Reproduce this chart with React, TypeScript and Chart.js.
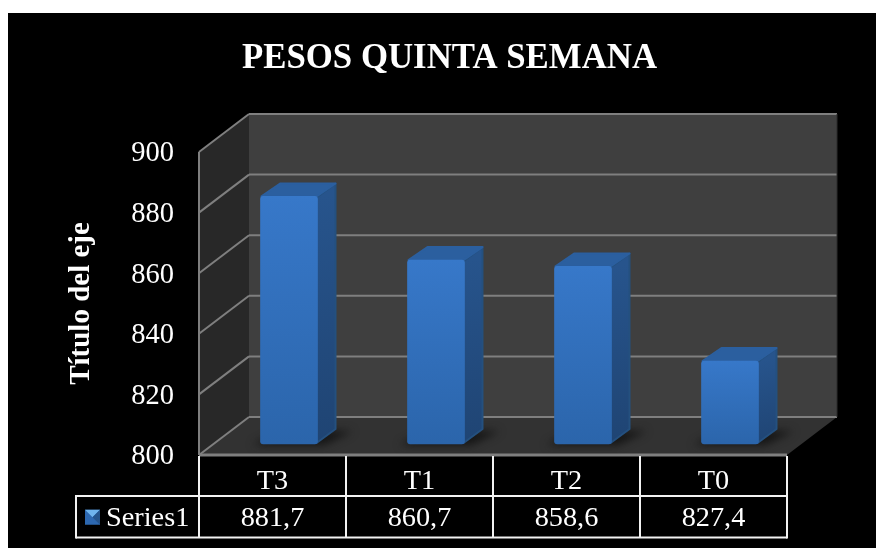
import React, { useEffect, useRef } from "react";
import { Chart, registerables } from "chart.js";

Chart.register(...registerables);

const chartTitle = "PESOS QUINTA SEMANA";
const axisTitle = "Título del eje";
const seriesName = "Series1";
const categories = ["T3", "T1", "T2", "T0"];
const seriesValues = [881.7, 860.7, 858.6, 827.4];
const yMin = 800;
const yMax = 900;
const yStep = 20;

const FONT = "'Liberation Serif', 'Times New Roman', serif";
const DEPTH_X = 50;
const DEPTH_Y = 38;
const BAR_SHIFT_X = 16.5;
const BAR_SHIFT_Y = 11;
const BAR_DX = 19;
const BAR_DY = 14;

function poly(ctx: CanvasRenderingContext2D, pts: number[][], fill?: any, stroke?: string, lw = 2) {
  ctx.beginPath();
  pts.forEach((p, i) => (i ? ctx.lineTo(p[0], p[1]) : ctx.moveTo(p[0], p[1])));
  ctx.closePath();
  if (fill) {
    ctx.fillStyle = fill;
    ctx.fill();
  }
  if (stroke) {
    ctx.strokeStyle = stroke;
    ctx.lineWidth = lw;
    ctx.stroke();
  }
}

function line(ctx: CanvasRenderingContext2D, x1: number, y1: number, x2: number, y2: number, color: string, lw = 2) {
  ctx.beginPath();
  ctx.moveTo(x1, y1);
  ctx.lineTo(x2, y2);
  ctx.strokeStyle = color;
  ctx.lineWidth = lw;
  ctx.stroke();
}

const scene3d = {
  id: "scene3d",
  beforeDatasetsDraw(chart: any) {
    const { ctx, chartArea: a, scales } = chart;
    const { left: l, right: r, top: t, bottom: b } = a;
    const dx = DEPTH_X;
    const dy = DEPTH_Y;
    ctx.save();
    poly(ctx, [[l + dx, t - dy], [r + dx, t - dy], [r + dx, b - dy], [l + dx, b - dy]], "#3f3f3f");
    poly(ctx, [[l, t], [l + dx, t - dy], [l + dx, b - dy], [l, b]], "#282828");
    poly(ctx, [[l, b], [r, b], [r + dx, b - dy], [l + dx, b - dy]], "#323232");
    const gridColor = "#7f7f7f";
    scales.y.ticks.forEach((tk: any) => {
      const y = scales.y.getPixelForValue(tk.value);
      line(ctx, l, y, l + dx, y - dy, gridColor);
      line(ctx, l + dx, y - dy, r + dx, y - dy, gridColor);
    });
    line(ctx, l, t, l, b, gridColor);
    line(ctx, l, b, r, b, gridColor, 3);
    line(ctx, r + dx, t - dy, r + dx, b - dy, "#2c2c2c", 1);

    const meta = chart.getDatasetMeta(0);
    // soft floor shadows
    meta.data.forEach((bar: any) => {
      const x1 = bar.x - bar.width / 2 + BAR_SHIFT_X;
      const x2 = bar.x + bar.width / 2 + BAR_SHIFT_X;
      const yb = bar.base - BAR_SHIFT_Y;
      ctx.save();
      ctx.filter = "blur(4px)";
      poly(ctx, [[x1 - 8, yb + 1], [x2 + 6, yb + 1], [x2 + BAR_DX + 16, yb - BAR_DY + 1], [x1 + BAR_DX, yb - BAR_DY + 1]], "rgba(15,15,15,0.85)");
      ctx.restore();
    });
    // side and top faces
    meta.data.forEach((bar: any) => {
      const x1 = bar.x - bar.width / 2 + BAR_SHIFT_X;
      const x2 = bar.x + bar.width / 2 + BAR_SHIFT_X;
      const yt = bar.y - BAR_SHIFT_Y;
      const yb = bar.base - BAR_SHIFT_Y;
      const side = ctx.createLinearGradient(x2, yt, x2 + BAR_DX, yb);
      side.addColorStop(0, "#27548c");
      side.addColorStop(1, "#1f4473");
      ctx.lineJoin = "round";
      poly(ctx, [[x2 - 1, yt + 1], [x2 + BAR_DX - 1, yt - BAR_DY + 1], [x2 + BAR_DX - 1, yb - BAR_DY - 1], [x2 - 1, yb - 1]], side, "#24507f", 2);
      poly(ctx, [[x1 + 1, yt], [x1 + BAR_DX + 1, yt - BAR_DY + 1], [x2 + BAR_DX - 1, yt - BAR_DY + 1], [x2 - 1, yt]], "#2b5f9f", "#2b5f9f", 2);
    });
    ctx.restore();
    ctx.save();
    ctx.translate(BAR_SHIFT_X, -BAR_SHIFT_Y);
  },
  afterDatasetsDraw(chart: any) {
    chart.ctx.restore();
  },
  afterDraw(chart: any) {
    const { ctx, chartArea: a, scales } = chart;
    const { left: l, right: r, bottom: b } = a;
    const row1 = b + 41;
    const row2 = b + 82.5;
    const keyLeft = 68;
    ctx.save();
    const w = "#f2f2f2";
    line(ctx, l, b + 1, l, row2, w);
    line(ctx, keyLeft, row1, r, row1, w);
    line(ctx, keyLeft, row2, r, row2, w);
    line(ctx, keyLeft, row1 - 1, keyLeft, row2 + 1, w);
    line(ctx, r, b + 1, r, row2 + 1, w);
    const xs = scales.x;
    categories.forEach((_, i) => {
      if (i > 0) {
        const xb = (xs.getPixelForValue(i - 1) + xs.getPixelForValue(i)) / 2;
        line(ctx, xb, b + 1, xb, row2, w);
      }
    });
    ctx.fillStyle = "#ffffff";
    ctx.font = `28.3px ${FONT}`;
    ctx.textBaseline = "middle";
    ctx.textAlign = "center";
    const rowMid = (row1 + row2) / 2 + 2;
    seriesValues.forEach((v, i) => {
      ctx.fillText(v.toFixed(1).replace(".", ","), xs.getPixelForValue(i), rowMid);
    });
    ctx.textAlign = "left";
    ctx.fillText(chart.data.datasets[0].label, 98, rowMid);
    // legend key
    const kx = 77;
    const ky = rowMid - 9;
    const ks = 15;
    poly(ctx, [[kx, ky], [kx + ks, ky], [kx + ks, ky + ks], [kx, ky + ks]], "#2d68b0");
    poly(ctx, [[kx, ky], [kx + ks, ky], [kx + ks / 2, ky + ks / 2]], "#6fb4ee");
    poly(ctx, [[kx + ks, ky], [kx + ks, ky + ks], [kx + ks / 2, ky + ks / 2]], "#24548c");
    ctx.restore();
  },
};

export default function App() {
  const ref = useRef<HTMLCanvasElement>(null);
  useEffect(() => {
    const chart = new Chart(ref.current!, {
      type: "bar",
      data: {
        labels: categories,
        datasets: [
          {
            label: seriesName,
            data: seriesValues,
            base: yMin,
            barThickness: 57,
            borderRadius: 3,
            borderSkipped: false,
            backgroundColor: (c: any) => {
              const ch = c.chart;
              if (!ch.chartArea || c.raw === undefined) return "#3170bd";
              const top = ch.scales.y.getPixelForValue(c.raw);
              const g = ch.ctx.createLinearGradient(0, top, 0, ch.chartArea.bottom);
              g.addColorStop(0, "#3778c9");
              g.addColorStop(1, "#2b65ab");
              return g;
            },
          },
        ],
      } as any,
      options: {
        animation: false,
        responsive: false,
        clip: false,
        layout: { padding: { left: 15, right: 0, top: 0, bottom: 0 } },
        plugins: {
          legend: { display: false },
          tooltip: { enabled: false },
          title: {
            display: true,
            text: chartTitle,
            color: "#ffffff",
            font: { family: FONT, size: 34.8, weight: "bold", lineHeight: 1.25 },
            padding: { top: 24.5, bottom: 71 },
          },
        },
        scales: {
          x: {
            grid: { display: false, drawTicks: false },
            border: { display: false },
            ticks: { color: "#ffffff", font: { family: FONT, size: 28.3 }, padding: 10, maxRotation: 0 },
            afterFit: (s: any) => {
              s.height = 93;
            },
          },
          y: {
            min: yMin,
            max: yMax,
            grid: { display: false, drawTicks: false },
            border: { display: false },
            ticks: {
              stepSize: yStep,
              color: "#ffffff",
              font: { family: FONT, size: 28.5, lineHeight: "4px" },
              padding: 25,
              callback: (v: any) => ["", String(v)],
            },
            title: {
              display: true,
              text: axisTitle,
              color: "#ffffff",
              font: { family: FONT, size: 29, weight: "bold" },
              padding: { top: 41, bottom: 0 },
            },
            afterFit: (s: any) => {
              s.width = 176;
            },
          },
          yRight: {
            position: "right",
            min: 0,
            max: 1,
            grid: { display: false, drawTicks: false },
            border: { display: false },
            ticks: { display: false },
            afterFit: (s: any) => {
              s.width = 89;
            },
          },
        },
      } as any,
      plugins: [scene3d],
    });
    return () => chart.destroy();
  }, []);
  return (
    <canvas
      ref={ref}
      width={868}
      height={535}
      style={{ position: "fixed", left: 8, top: 13, width: 868, height: 535, background: "#000000", display: "block" }}
    />
  );
}
